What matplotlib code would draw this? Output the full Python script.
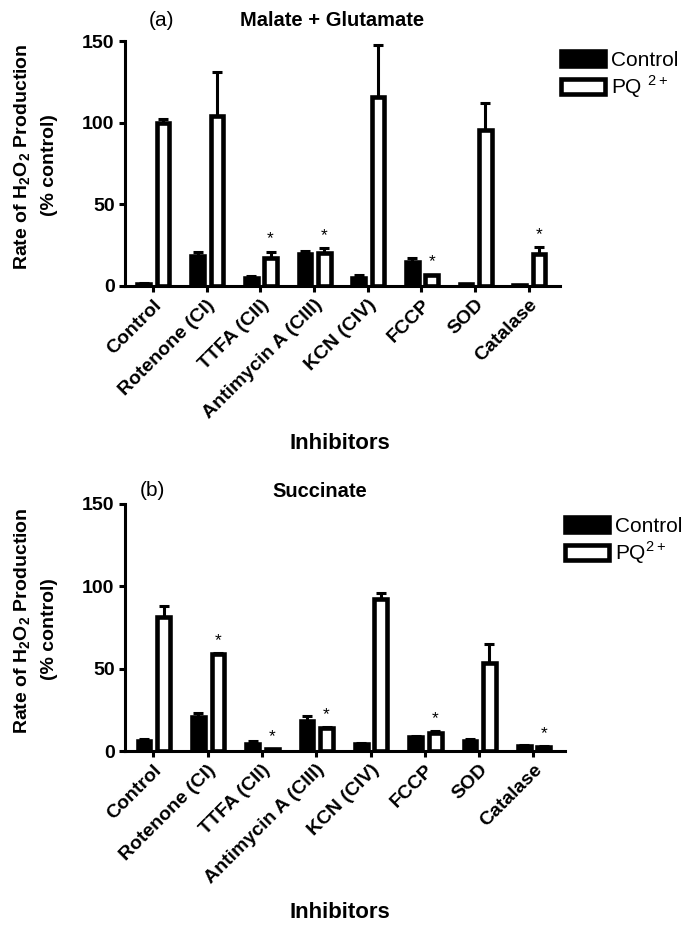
import matplotlib
matplotlib.use('Agg')
import matplotlib.pyplot as plt
import matplotlib.transforms as mtransforms
import numpy as np

plt.rcParams['font.family'] = ['Liberation Sans', 'DejaVu Sans']
plt.rcParams['mathtext.fontset'] = 'custom'
plt.rcParams['mathtext.rm'] = 'Liberation Sans'
plt.rcParams['mathtext.bf'] = 'Liberation Sans:bold'

# 数据
categories = ['Control', 'Rotenone (CI)', 'TTFA (CII)', 'Antimycin A (CIII)',
              'KCN (CIV)', 'FCCP', 'SOD', 'Catalase']

# (a) Malate + Glutamate
a_ctrl = [1.5, 18.5, 5, 19.5, 5, 14.5, 1.2, 0.5]
a_ctrl_err = [0.5, 2.5, 1, 2, 1.5, 2.5, 0.3, 0.2]
a_pq = [100, 104, 17, 20.5, 116, 6.5, 95.5, 19.5]
a_pq_err = [2.5, 27, 4, 2.5, 31.5, 0.5, 16.5, 4.5]
a_star = [False, False, True, True, False, True, False, True]

# (b) Succinate
b_ctrl = [6, 20.5, 4.5, 18.5, 4, 8.5, 6, 3]
b_ctrl_err = [1, 2.5, 1.5, 2.5, 1, 0.5, 1, 0.5]
b_pq = [81.5, 59, 1, 14, 92.5, 11, 53.5, 2.5]
b_pq_err = [6.5, 0.5, 0.3, 0.3, 3.5, 1, 11.5, 0.5]
b_star = [False, True, True, True, False, True, False, True]

W, H = 698, 931
fig = plt.figure(figsize=(W / 100, H / 100), dpi=100)

lw = 3.3
bw = 0.235


def panel(rect, ctrl, ctrl_err, pq, pq_err, stars, pq_label, leg_xy):
    ax = fig.add_axes(rect)
    x = np.arange(len(categories))
    xc = x - 0.17
    xp = x + 0.19
    b1 = ax.bar(xc, ctrl, bw, color='black', edgecolor='black', linewidth=lw, label='Control', zorder=2)
    b2 = ax.bar(xp, pq, bw, color='white', edgecolor='black', linewidth=lw, label=pq_label, zorder=2)
    ax.errorbar(xc, ctrl, yerr=[np.zeros(len(ctrl)), ctrl_err], fmt='none', ecolor='black',
                elinewidth=2.2, capsize=3.6, capthick=2.2, zorder=3)
    ax.errorbar(xp, pq, yerr=[np.zeros(len(pq)), pq_err], fmt='none', ecolor='black',
                elinewidth=2.2, capsize=3.6, capthick=2.2, zorder=3)
    for i, s in enumerate(stars):
        if s:
            ax.text(xp[i], pq[i] + pq_err[i] + 5, '*', ha='center', va='baseline', fontsize=12.5)
    ax.set_xlim(-0.52, 7.58)
    ax.set_ylim(0, 150)
    ax.set_yticks([0, 50, 100, 150])
    ax.set_xticks(x)
    ax.set_xticklabels(categories, rotation=45, ha='right', va='top', rotation_mode='anchor',
                       fontsize=14, fontweight='bold')
    shift = mtransforms.ScaledTranslation(5 / 100, 0, fig.dpi_scale_trans)
    for lab in ax.get_xticklabels():
        lab.set_transform(lab.get_transform() + shift)
    for lab in ax.get_yticklabels():
        lab.set_fontweight('bold')
        lab.set_fontsize(14)
    ax.spines['top'].set_visible(False)
    ax.spines['right'].set_visible(False)
    ax.spines['left'].set_linewidth(2.2)
    ax.spines['bottom'].set_linewidth(2.2)
    ax.tick_params(axis='both', width=2.2, length=4.5, pad=3)
    ax.legend(handles=[b1, b2], loc='upper left', bbox_to_anchor=leg_xy,
              bbox_transform=fig.transFigure, frameon=False, borderpad=0, borderaxespad=0,
              handlelength=2.1, handleheight=0.7, handletextpad=0.3, labelspacing=0.15,
              fontsize=15)
    return ax


ax1 = panel([125 / W, 1 - 286 / H, 435 / W, 245 / H], a_ctrl, a_ctrl_err, a_pq, a_pq_err,
            a_star, 'PQ $^{2+}$', (561 / W, 1 - 51 / H))
ax2 = panel([125 / W, 1 - 751 / H, 440 / W, 247 / H], b_ctrl, b_ctrl_err, b_pq, b_pq_err,
            b_star, 'PQ$^{2+}$', (565 / W, 1 - 517 / H))

ylab1 = r'Rate of H$_\mathbf{2}$O$_\mathbf{2}$ Production'
ylab2 = '(% control)'
for yc in (163.5, 627.5):
    fig.text(23 / W, 1 - (yc - 6.5) / H, ylab1, rotation=90, ha='center', va='center',
             fontsize=14, fontweight='bold')
    fig.text(49 / W, 1 - (yc + 1.5) / H, ylab2, rotation=90, ha='center', va='center',
             fontsize=14, fontweight='bold')

fig.text(340 / W, 1 - 443 / H, 'Inhibitors', ha='center', va='center', fontsize=16, fontweight='bold')
fig.text(340 / W, 1 - 912 / H, 'Inhibitors', ha='center', va='center', fontsize=16, fontweight='bold')

fig.text(162 / W, 1 - 21 / H, '(a)', ha='center', va='center', fontsize=15)
fig.text(332 / W, 1 - 21 / H, 'Malate + Glutamate', ha='center', va='center', fontsize=14.5, fontweight='bold')
fig.text(152 / W, 1 - 490 / H, '(b)', ha='center', va='center', fontsize=15)
fig.text(320 / W, 1 - 491 / H, 'Succinate', ha='center', va='center', fontsize=14.5, fontweight='bold')

fig.savefig('out.png', dpi=100)
